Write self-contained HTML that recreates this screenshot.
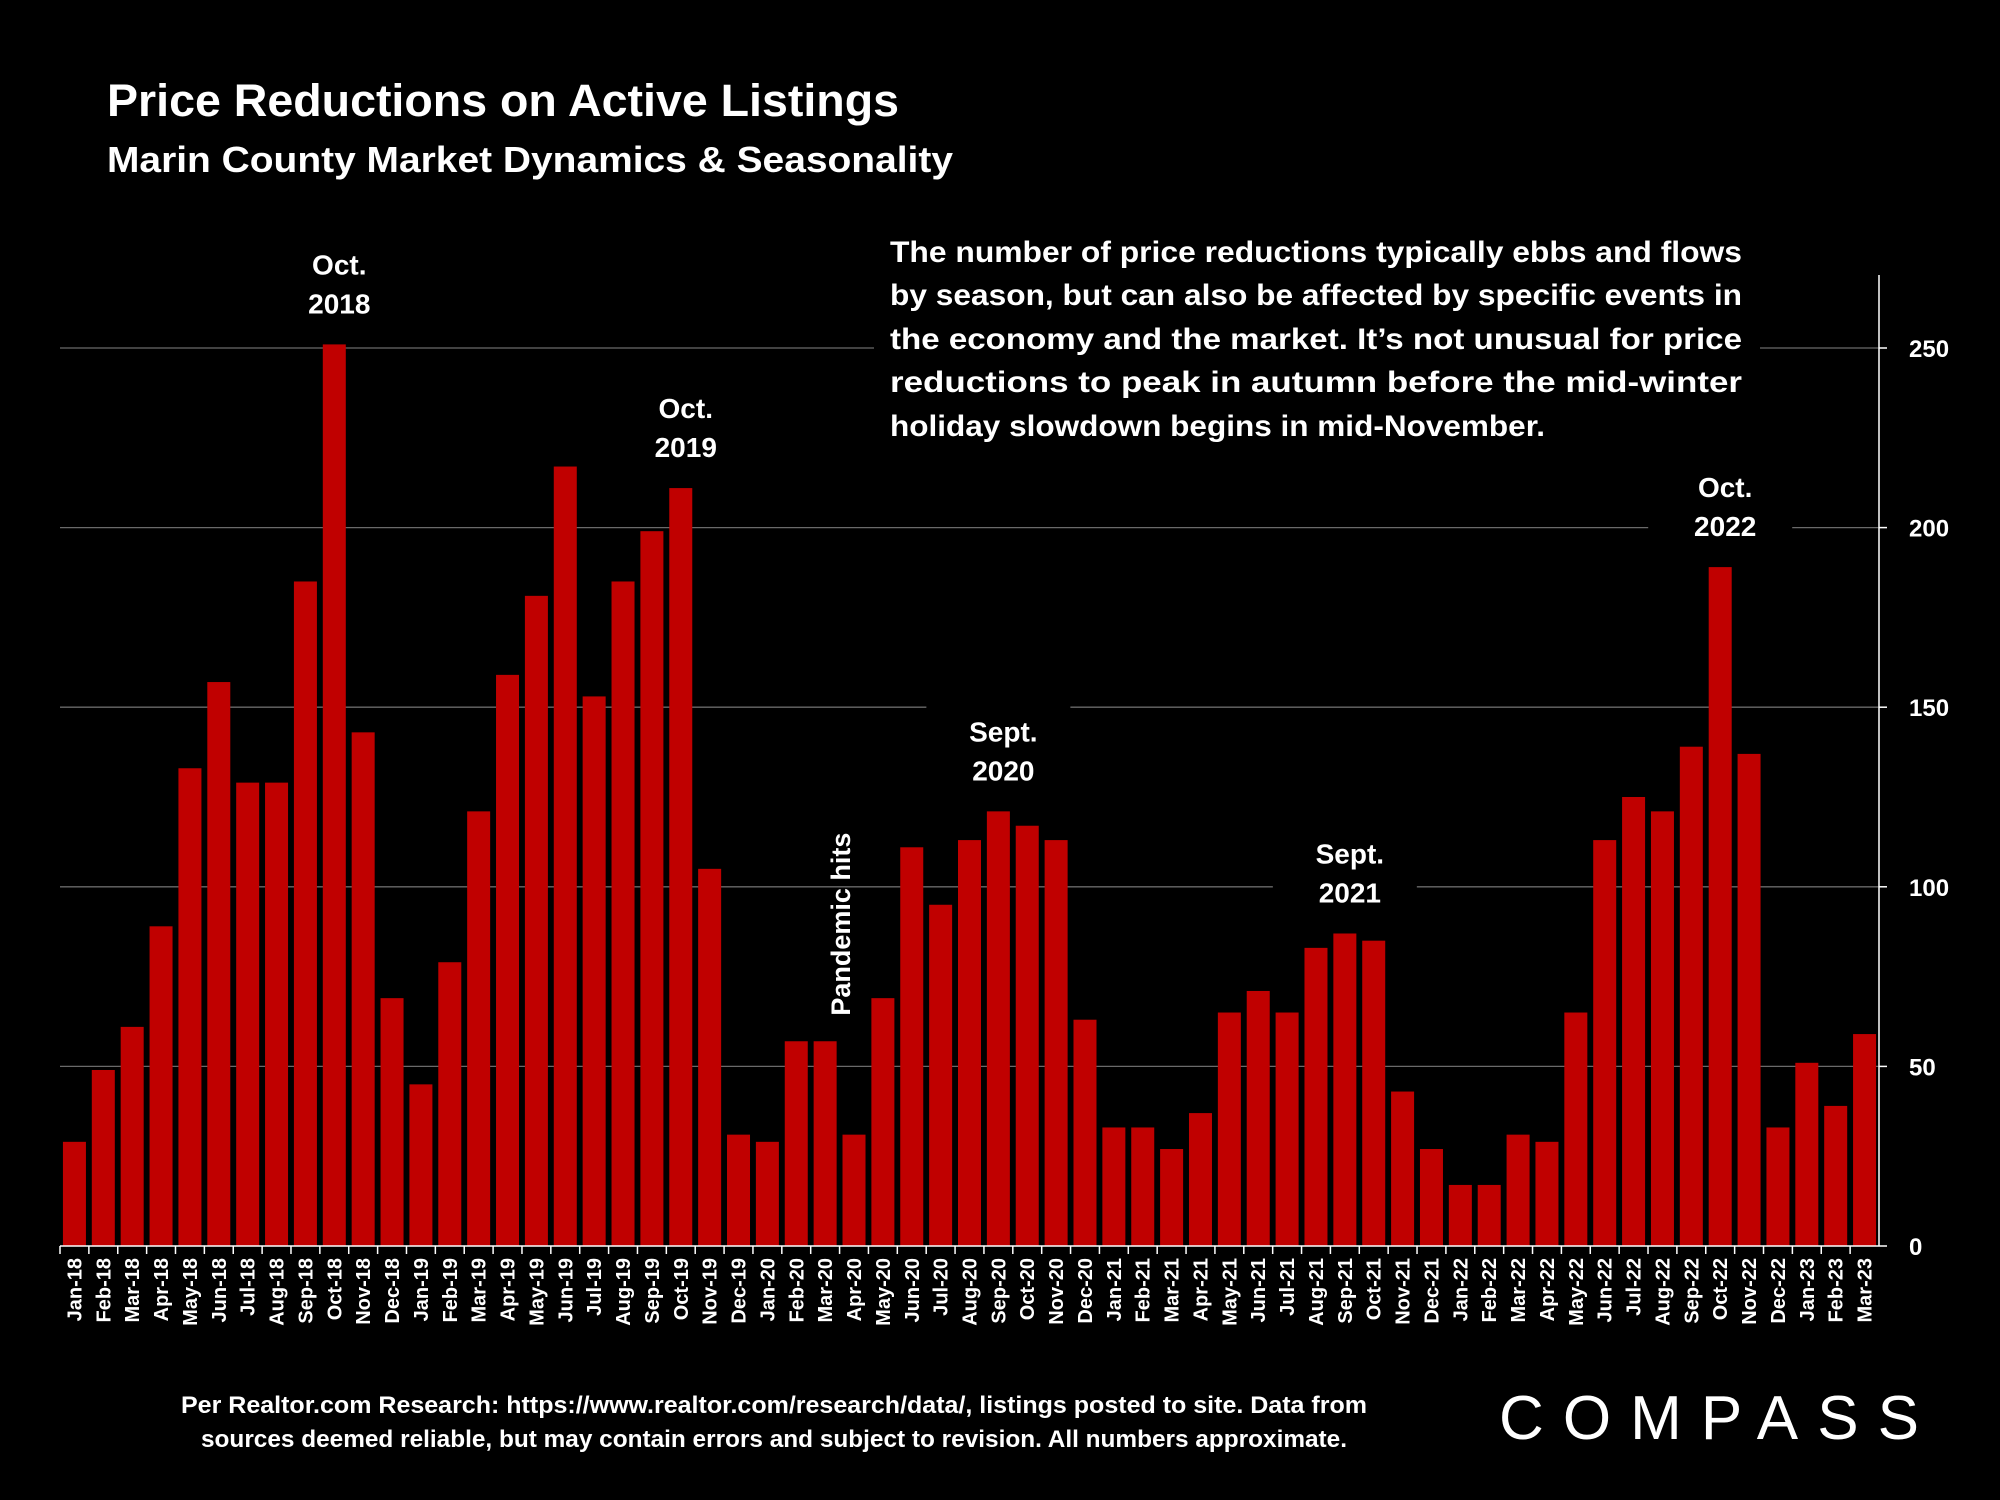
<!DOCTYPE html>
<html><head><meta charset="utf-8"><style>
html,body{margin:0;padding:0;background:#000;}
svg{display:block;}
text{font-family:"Liberation Sans",sans-serif;fill:#fff;font-weight:bold;}
</style></head><body>
<svg id="chart" width="2000" height="1500" viewBox="0 0 2000 1500" xmlns="http://www.w3.org/2000/svg">
<rect width="2000" height="1500" fill="#000"/>
<text x="107" y="116" font-size="45" textLength="792" lengthAdjust="spacingAndGlyphs">Price Reductions on Active Listings</text>
<text x="107" y="172" font-size="36" textLength="846" lengthAdjust="spacingAndGlyphs">Marin County Market Dynamics &amp; Seasonality</text>
<g id="grid"></g>
<g id="bars"></g>
<g id="axes"></g>
<rect x="874" y="228" width="886" height="220" fill="#000"/>
<g font-size="30">
<text x="890" y="262" textLength="852" lengthAdjust="spacingAndGlyphs">The number of price reductions typically ebbs and flows</text>
<text x="890" y="305" textLength="852" lengthAdjust="spacingAndGlyphs">by season, but can also be affected by specific events in</text>
<text x="890" y="349" textLength="852" lengthAdjust="spacingAndGlyphs">the economy and the market. It’s not unusual for price</text>
<text x="890" y="392" textLength="852" lengthAdjust="spacingAndGlyphs">reductions to peak in autumn before the mid-winter</text>
<text x="890" y="436" textLength="655" lengthAdjust="spacingAndGlyphs">holiday slowdown begins in mid-November.</text>
</g>
<g id="labels"></g>
<text x="774" y="1413" font-size="24" text-anchor="middle" textLength="1186" lengthAdjust="spacingAndGlyphs">Per Realtor.com Research:  https://www.realtor.com/research/data/, listings posted to site. Data from</text>
<text x="774" y="1447" font-size="24" text-anchor="middle" textLength="1146" lengthAdjust="spacingAndGlyphs">sources deemed reliable, but may contain errors and subject to revision. All numbers approximate.</text>
<text x="1499" y="1439" font-size="62" style="font-weight:normal" textLength="420" lengthAdjust="spacing">COMPASS</text>
</svg>
<script>
const categories=["Jan-18","Feb-18","Mar-18","Apr-18","May-18","Jun-18","Jul-18","Aug-18","Sep-18","Oct-18","Nov-18","Dec-18",
"Jan-19","Feb-19","Mar-19","Apr-19","May-19","Jun-19","Jul-19","Aug-19","Sep-19","Oct-19","Nov-19","Dec-19",
"Jan-20","Feb-20","Mar-20","Apr-20","May-20","Jun-20","Jul-20","Aug-20","Sep-20","Oct-20","Nov-20","Dec-20",
"Jan-21","Feb-21","Mar-21","Apr-21","May-21","Jun-21","Jul-21","Aug-21","Sep-21","Oct-21","Nov-21","Dec-21",
"Jan-22","Feb-22","Mar-22","Apr-22","May-22","Jun-22","Jul-22","Aug-22","Sep-22","Oct-22","Nov-22","Dec-22",
"Jan-23","Feb-23","Mar-23"];
const values=[29,49,61,89,133,157,129,129,185,251,143,69,
45,79,121,159,181,217,153,185,199,211,105,31,
29,57,57,31,69,111,95,113,121,117,113,63,
33,33,27,37,65,71,65,83,87,85,43,27,
17,17,31,29,65,113,125,121,139,189,137,33,
51,39,59];
const yTicks=[0,50,100,150,200,250];
const callouts=[["Oct.","2018",9],["Oct.","2019",21],["Sept.","2020",32],["Sept.","2021",44],["Oct.","2022",57]];
const NS="http://www.w3.org/2000/svg";
const X0=60,X1=1879,Y0=1246,Y250=348;
const step=(X1-X0)/categories.length;
const xc=i=>X0+step*(i+0.5);
const y=v=>Y0-(Y0-Y250)*v/250;
function mk(tag,attrs,parent){const e=document.createElementNS(NS,tag);for(const k in attrs)e.setAttribute(k,attrs[k]);parent.appendChild(e);return e;}
const grid=document.getElementById('grid'),bars=document.getElementById('bars'),axes=document.getElementById('axes'),labels=document.getElementById('labels');
yTicks.forEach(t=>{
 if(t>0){const l=mk('line',{x1:X0,x2:X1,y1:y(t),y2:y(t),stroke:'#6a6a6a','stroke-width':1.3},grid);
 
 }
 const tx=mk('text',{x:X1+30,y:y(t)+9,'font-size':24,'font-weight':'bold'},axes);
 tx.textContent=t;
 
 
 mk('line',{x1:X1,x2:X1+8,y1:y(t),y2:y(t),stroke:'#fff','stroke-width':1.5},axes);
});
values.forEach((v,i)=>{
 const r=mk('rect',{x:xc(i)-11.5,y:y(v),width:23,height:Y0-y(v),fill:'#c00000'},bars);
 
 
 const t=mk('text',{x:0,y:0,'font-size':20,'text-anchor':'end',transform:`translate(${xc(i)+7},${Y0+12}) rotate(-90)`},axes);
 t.textContent=categories[i];
 
 
 mk('line',{x1:X0+step*i,x2:X0+step*i,y1:Y0,y2:Y0+8,stroke:'#fff','stroke-width':1.5},axes);
});
const xa=mk('line',{x1:X0,x2:X1,y1:Y0,y2:Y0,stroke:'#fff','stroke-width':1.5},axes);


const ya=mk('line',{x1:X1,x2:X1,y1:275,y2:Y0,stroke:'#fff','stroke-width':1.5},axes);


callouts.forEach(c=>{
 const i=c[2],cx=xc(i),top=y(values[i]);
 mk('rect',{x:cx-72,y:top-110,width:144,height:98,fill:'#000'},labels);
 const g=mk('g',{},labels);
 
 
 const a=mk('text',{x:cx+5,y:top-70,'font-size':28,'text-anchor':'middle'},g);a.textContent=c[0];
 const b=mk('text',{x:cx+5,y:top-31,'font-size':28,'text-anchor':'middle'},g);b.textContent=c[1];
});
const p=mk('text',{x:0,y:0,'font-size':27,'text-anchor':'start',transform:`translate(${xc(27)-4},${y(values[27])-119}) rotate(-90)`},labels);
p.textContent='Pandemic hits';


</script>
</body></html>
